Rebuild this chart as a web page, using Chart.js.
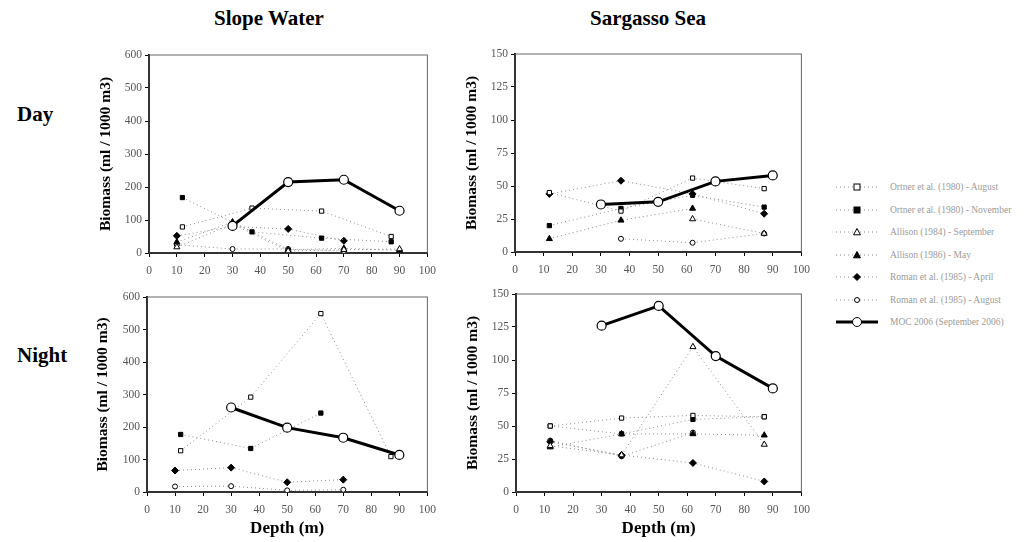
<!DOCTYPE html>
<html>
<head>
<meta charset="utf-8">
<script src="https://cdn.jsdelivr.net/npm/chart.js@4.4.0/dist/chart.umd.min.js"></script>
<style>
  body { margin: 0; background: #fff; width: 1025px; height: 542px; position: relative; overflow: hidden; font-family: "Liberation Serif", serif; }
  .box { position: absolute; }
  .head { position: absolute; font-weight: bold; font-size: 21px; color: #000; white-space: nowrap; }
  #legend { position: absolute; left: 836px; top: 176px; font-size: 9.5px; color: #9a9a9a; }
  #legend div { height: 22.5px; display: flex; align-items: center; white-space: nowrap; }
  #legend svg { margin-right: 10px; }
</style>
</head>
<body>
<div class="head" style="left:214px;top:6px">Slope Water</div>
<div class="head" style="left:590px;top:6px">Sargasso Sea</div>
<div class="head" style="left:17px;top:102px">Day</div>
<div class="head" style="left:17px;top:343px">Night</div>

<div class="box" style="left:95px;top:45px;width:348px;height:230px"><canvas id="slopeDay"></canvas></div>
<div class="box" style="left:461px;top:44px;width:356px;height:230px"><canvas id="sargDay"></canvas></div>
<div class="box" style="left:92px;top:287px;width:351px;height:252px"><canvas id="slopeNight"></canvas></div>
<div class="box" style="left:462px;top:284px;width:355px;height:255px"><canvas id="sargNight"></canvas></div>
<div id="legend"></div>

<script>
//nomes das series (legenda)
var seriesNames = [
    'Ortner et al. (1980) - August',
    'Ortner et al. (1980) - November',
    'Allison (1984) - September',
    'Allison (1986) - May',
    'Roman et al. (1985) - April',
    'Roman et al. (1985) - August',
    'MOC 2006 (September 2006)'
];

//profundidades de amostragem (m)
var depthOrtner = [12, 37, 62, 87];
var depthRoman = [10, 30, 50, 70, 90];
var depthMoc = [30, 50, 70, 90];

//ticks
var depthTicks = [0, 10, 20, 30, 40, 50, 60, 70, 80, 90, 100];
var slopeTicks = [0, 100, 200, 300, 400, 500, 600];
var sargTicks = [0, 25, 50, 75, 100, 125, 150];

//Slope Water - dia
var sdOrtnerAug = [79, 136, 127, 50];
var sdOrtnerNov = [168, 64, 45, 34];
var sdAllisonSep = [18, 88, 6, 10, 12];
var sdAllisonMay = [33, 94, 10, 14, 8];
var sdRomanApr = [52, 80, 73, 37, null];
var sdRomanAug = [25, 12, 12, 6, null];
var sdMoc = [82, 215, 222, 128];

//Slope Water - noite
var snOrtnerAug = [127, 292, 549, 109];
var snOrtnerNov = [177, 134, 243, null];
var snAllisonSep = [];
var snAllisonMay = [];
var snRomanApr = [66, 75, 30, 38, null];
var snRomanAug = [17, 18, 5, 7, null];
var snMoc = [260, 198, 167, 114];

//Sargasso Sea - dia
var gdOrtnerAug = [45, 31, 56, 48];
var gdOrtnerNov = [20, 33, 43, 34];
var gdAllisonSep = [null, null, 25, 14];
var gdAllisonMay = [10, 24, 33, null];
var gdRomanApr = [44, 54, 44, 29];
var gdRomanAug = [null, 10, 7, 14];
var gdMoc = [36, 38, 53.5, 58];

//Sargasso Sea - noite
var gnOrtnerAug = [50, 56, 58, 57];
var gnOrtnerNov = [50, 44, 55, 57];
var gnAllisonSep = [35, 28, 110, 36];
var gnAllisonMay = [34, 44, 44, 43];
var gnRomanApr = [38, 28, 22, 8];
var gnRomanAug = [39, 27, 45, null];
var gnMoc = [126, 141, 103, 78.5];

//estilo de cada serie
var styles = [
    { shape: 'rect', fill: '#fff', r: 3 },
    { shape: 'rect', fill: '#000', r: 3 },
    { shape: 'triangle', fill: '#fff', r: 3.5 },
    { shape: 'triangle', fill: '#000', r: 3.5 },
    { shape: 'rectRot', fill: '#000', r: 3.5 },
    { shape: 'circle', fill: '#fff', r: 2.5 },
    { shape: 'circle', fill: '#fff', r: 4.5 }
];

function pts(depths, values) {
    var out = [];
    for (var i = 0; i < values.length; i++) {
        if (values[i] !== null && values[i] !== undefined) out.push({ x: depths[i], y: values[i] });
    }
    return out;
}

function makeDatasets(list) {
    return list.map(function (s, i) {
        var st = styles[i];
        var moc = i === 6;
        return {
            label: seriesNames[i],
            data: pts(s[0], s[1]),
            showLine: true,
            borderColor: moc ? '#000' : '#8a8a8a',
            borderWidth: moc ? 3 : 1,
            borderDash: moc ? [] : [1, 3],
            pointStyle: st.shape,
            pointRadius: st.r,
            pointBackgroundColor: st.fill,
            pointBorderColor: '#000',
            pointBorderWidth: moc ? 1.2 : 1,
            order: moc ? 0 : 1
        };
    });
}

//moldura em volta da area do grafico
var framePlugin = {
    id: 'frame',
    beforeDatasetsDraw: function (chart) {
        var a = chart.chartArea, c = chart.ctx;
        c.save();
        c.strokeStyle = '#666';
        c.lineWidth = 1;
        c.strokeRect(a.left, a.top, a.right - a.left, a.bottom - a.top);
        c.restore();
    }
};

function makeChart(id, list, yTicks, yMax, bottomRow, yWidth) {
    var ctx = document.querySelector('#' + id);
    return new Chart(ctx, {
        type: 'scatter',
        data: { datasets: makeDatasets(list) },
        options: {
            responsive: true,
            maintainAspectRatio: false,
            animation: false,
            layout: { padding: { top: 10, right: 8 } },
            plugins: { legend: { display: false }, tooltip: { enabled: false } },
            scales: {
                x: {
                    type: 'linear', min: 0, max: 100,
                    afterBuildTicks: function (s) { s.ticks = depthTicks.map(function (v) { return { value: v }; }); },
                    afterFit: function (s) { s.height = bottomRow ? 47 : 22; },
                    grid: { drawOnChartArea: false, drawTicks: true, tickLength: 4, color: '#000' },
                    border: { color: '#000', width: 2 },
                    ticks: { color: '#555', padding: 7, font: { family: 'Liberation Serif', size: 11.5 }, maxRotation: 0 },
                    title: { display: bottomRow, text: 'Depth (m)', color: '#000', padding: { top: 2, bottom: 0 }, font: { family: 'Liberation Serif', size: 17, weight: 'bold' } }
                },
                y: {
                    type: 'linear', min: 0, max: yMax,
                    afterBuildTicks: function (s) { s.ticks = yTicks.map(function (v) { return { value: v }; }); },
                    afterFit: function (s) { s.width = yWidth; },
                    grid: { drawOnChartArea: false, drawTicks: true, tickLength: 4, color: '#000' },
                    border: { color: '#000', width: 2 },
                    ticks: { color: '#555', padding: 3, font: { family: 'Liberation Serif', size: 11.5 } },
                    title: { display: true, text: 'Biomass (ml / 1000 m3)', color: '#000', padding: 2, font: { family: 'Liberation Serif', size: 15.5, weight: 'bold' } }
                }
            }
        },
        plugins: [framePlugin]
    });
}

makeChart('slopeDay', [
    [depthOrtner, sdOrtnerAug], [depthOrtner, sdOrtnerNov], [depthRoman, sdAllisonSep], [depthRoman, sdAllisonMay],
    [depthRoman, sdRomanApr], [depthRoman, sdRomanAug], [depthMoc, sdMoc]
], slopeTicks, 600, false, 54);

makeChart('slopeNight', [
    [depthOrtner, snOrtnerAug], [depthOrtner, snOrtnerNov], [depthRoman, snAllisonSep], [depthRoman, snAllisonMay],
    [depthRoman, snRomanApr], [depthRoman, snRomanAug], [depthMoc, snMoc]
], slopeTicks, 600, true, 55);

makeChart('sargDay', [
    [depthOrtner, gdOrtnerAug], [depthOrtner, gdOrtnerNov], [depthOrtner, gdAllisonSep], [depthOrtner, gdAllisonMay],
    [depthOrtner, gdRomanApr], [depthOrtner, gdRomanAug], [depthMoc, gdMoc]
], sargTicks, 150, false, 54);

makeChart('sargNight', [
    [depthOrtner, gnOrtnerAug], [depthOrtner, gnOrtnerNov], [depthOrtner, gnAllisonSep], [depthOrtner, gnAllisonMay],
    [depthOrtner, gnRomanApr], [depthOrtner, gnRomanAug], [depthMoc, gnMoc]
], sargTicks, 150, true, 54);

//legenda manual a direita
var svgShapes = {
    rect: function (f, r) { return '<rect x="' + (21 - r) + '" y="' + (6 - r) + '" width="' + 2 * r + '" height="' + 2 * r + '" fill="' + f + '" stroke="#000"/>'; },
    triangle: function (f, r) { return '<polygon points="21,' + (6 - r) + ' ' + (21 + r) + ',' + (6 + r * 0.8) + ' ' + (21 - r) + ',' + (6 + r * 0.8) + '" fill="' + f + '" stroke="#000"/>'; },
    rectRot: function (f, r) { return '<polygon points="21,' + (6 - r) + ' ' + (21 + r) + ',6 21,' + (6 + r) + ' ' + (21 - r) + ',6" fill="' + f + '" stroke="#000"/>'; },
    circle: function (f, r) { return '<circle cx="21" cy="6" r="' + r + '" fill="' + f + '" stroke="#000"/>'; }
};
var legend = document.querySelector('#legend');
seriesNames.forEach(function (name, i) {
    var st = styles[i];
    var moc = i === 6;
    var line = moc
        ? '<line x1="0" y1="6" x2="42" y2="6" stroke="#000" stroke-width="3"/>'
        : '<line x1="0" y1="6" x2="42" y2="6" stroke="#8a8a8a" stroke-width="1" stroke-dasharray="1,3"/>';
    var svg = '<svg width="44" height="12">' + line + svgShapes[st.shape](st.fill, st.r) + '</svg>';
    var row = document.createElement('div');
    row.innerHTML = svg + '<span>' + name + '</span>';
    legend.appendChild(row);
});
</script>
</body>
</html>
